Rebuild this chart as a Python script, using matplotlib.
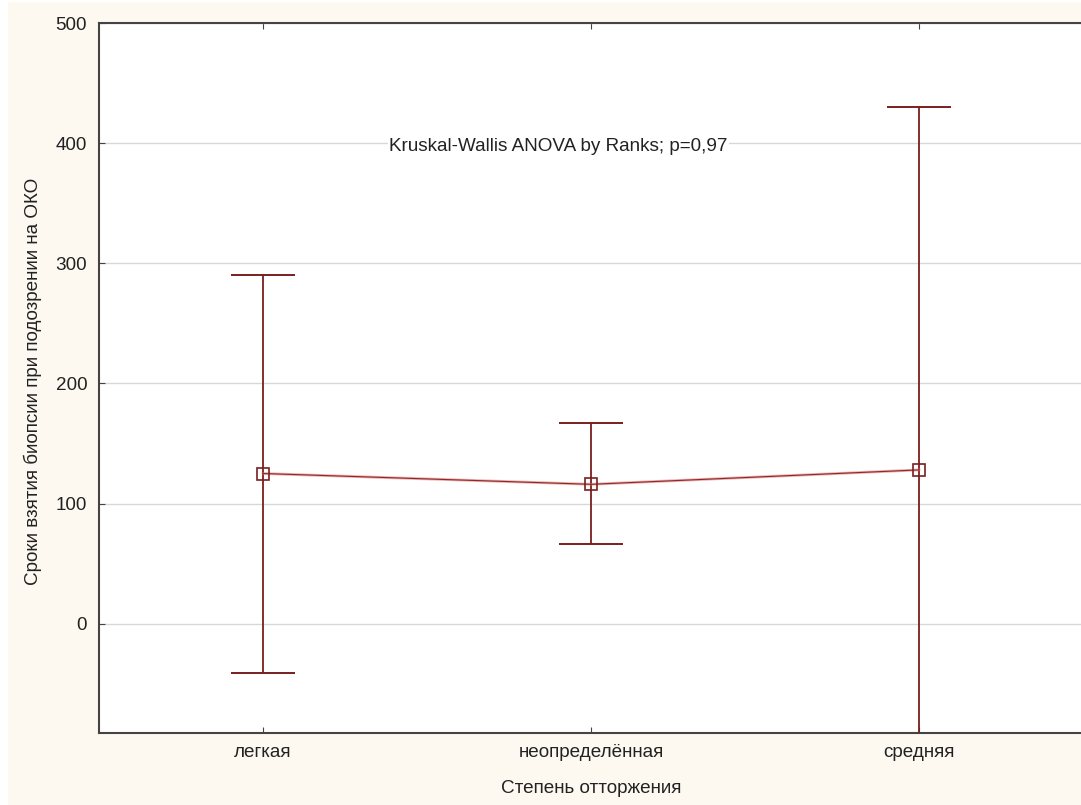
import matplotlib
matplotlib.use("Agg")
import matplotlib.pyplot as plt
from matplotlib.patches import Rectangle

categories = ["легкая", "неопределённая", "средняя"]
means = [125, 116, 128]
upper = [290, 167, 430]
lower = [-41, 66, -174]
yticks = [0, 100, 200, 300, 400, 500]
annotation = "Kruskal-Wallis ANOVA by Ranks; p=0,97"
xlabel = "Степень отторжения"
ylabel = "Сроки взятия биопсии при подозрении на ОКО"

plt.rcParams['font.family'] = ['Liberation Sans', 'DejaVu Sans']
FS = 13.6

W, H = 1081, 805
fig = plt.figure(figsize=(W / 100, H / 100), dpi=100, facecolor='white')
bg = Rectangle((8 / W, 0 / H), 1, (H - 2) / H, transform=fig.transFigure,
               facecolor='#FDF9F0', edgecolor='none', zorder=-10)
fig.patches.append(bg)

left, right, top, bottom = 99, 1083, 23, 733
ax = fig.add_axes([left / W, 1 - bottom / H, (right - left) / W, (bottom - top) / H])
ax.set_facecolor('white')

x = list(range(len(categories)))
col = '#7A1E1E'
yerr = [[m - l for m, l in zip(means, lower)], [u - m for m, u in zip(means, upper)]]
ax.errorbar(x, means, yerr=yerr, fmt='none', ecolor=col, elinewidth=1.3,
            capsize=23, capthick=1.4, zorder=3)
ax.plot(x, means, color='#E06A6A', lw=2.0, zorder=3, alpha=0.55)
ax.plot(x, means, color='#8A2A2A', lw=0.8, marker='s', markersize=8.5,
        markerfacecolor='none', markeredgecolor=col, markeredgewidth=1.2, zorder=4)

ax.set_xlim(-0.5, 2.5)
ax.set_ylim(-91, 500)
ax.set_yticks(yticks)
ax.set_xticks(x)
ax.set_xticklabels(categories)
ax.grid(axis='y', color='#D8D8D8', lw=1)
ax.set_axisbelow(True)

for s in ['left', 'bottom', 'top']:
    ax.spines[s].set_color('#444444')
    ax.spines[s].set_linewidth(1.5)
ax.spines['right'].set_visible(False)
ax.tick_params(axis='both', direction='in', length=4, color='#444444',
               labelsize=FS, labelcolor='#222222', top=True)
ax.tick_params(axis='x', pad=8)
ax.tick_params(axis='y', pad=8.5)

ax.text(0.90, 397, annotation, ha='center', va='center', fontsize=FS, color='#222222',
        bbox=dict(facecolor='white', edgecolor='none', pad=1), zorder=5)

fig.text(591 / W, 1 - 788 / H, xlabel, ha='center', va='center', fontsize=FS, color='#222222')
fig.text(33 / W, 1 - 381 / H, ylabel, ha='center', va='center', rotation=90,
         fontsize=FS, color='#222222')

fig.savefig('out.png', dpi=100, facecolor=fig.get_facecolor())
